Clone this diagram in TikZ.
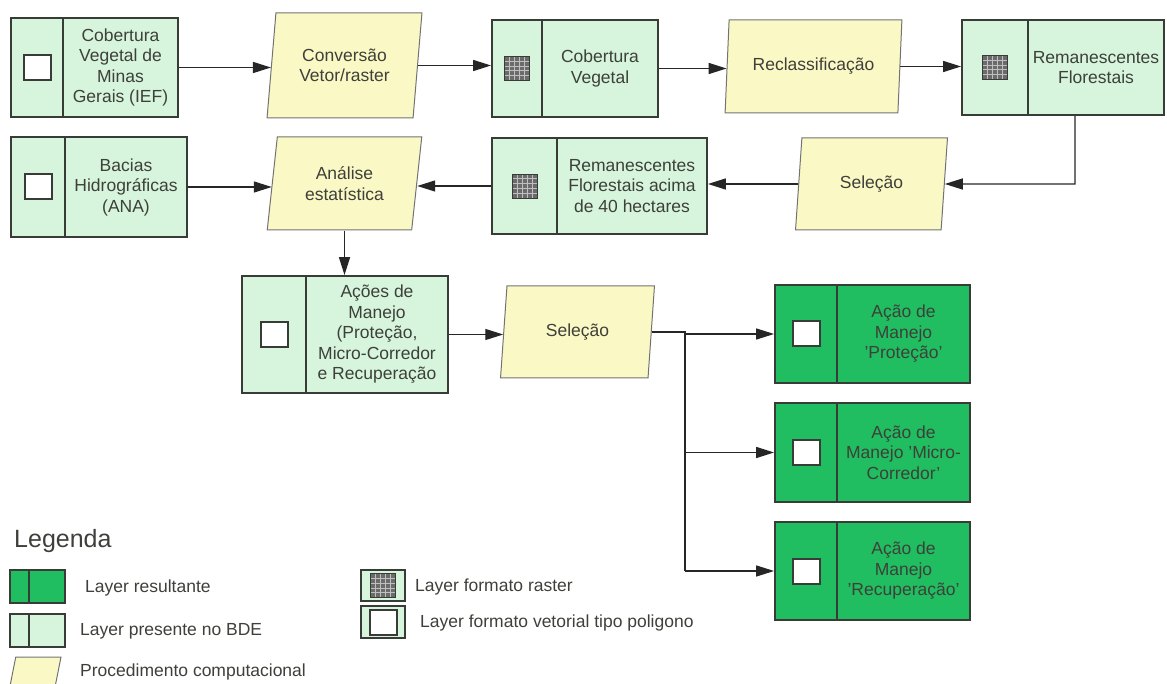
\documentclass[tikz,border=0pt]{standalone}
\usepackage{fontspec}
\setmainfont{Liberation Sans}
\usetikzlibrary{shapes.geometric,arrows.meta,fit}

\definecolor{layerlite}{RGB}{214,245,220}
\definecolor{layerdark}{RGB}{32,190,96}
\definecolor{procfill}{RGB}{250,248,196}
\definecolor{boxline}{RGB}{55,60,55}
\definecolor{txtgray}{RGB}{62,64,58}

\tikzset{
  lite/.style={draw=boxline, line width=1.8pt, fill=layerlite, inner sep=0pt},
  dark/.style={draw=boxline, line width=1.8pt, fill=layerdark, inner sep=0pt},
  proc/.style={trapezium, trapezium left angle=80, trapezium right angle=100,
    trapezium stretches=true, draw=black!55, line width=1pt, fill=procfill,
    inner sep=0pt, text=txtgray, align=center},
  divline/.style={draw=boxline, line width=1.6pt},
  vecicon/.style={draw=boxline, line width=2pt, fill=white,
    minimum width=27pt, minimum height=25pt, inner sep=0pt},
  rasicon/.style={draw=boxline, line width=0.8pt, fill=black!58,
    minimum width=25pt, minimum height=24pt, inner sep=0pt,
    path picture={\foreach \k in {1,...,4}{
      \draw[white!75!black, line width=0.8pt]
        ([xshift=\k*5pt]path picture bounding box.north west) -- ([xshift=\k*5pt]path picture bounding box.south west);
      \draw[white!75!black, line width=0.8pt]
        ([yshift=-\k*4.8pt]path picture bounding box.north west) -- ([yshift=-\k*4.8pt]path picture bounding box.north east);}}},
  boxtext/.style={text=txtgray, align=center, inner sep=0pt},
  legtext/.style={anchor=west, text=txtgray, inner sep=0pt},
  edge/.style={draw=black!85, line width=1.4pt},
  flow/.style={edge, -{Triangle[length=18pt,width=11pt]}},
}

% layer box: name, fill style, left, top, right, bottom, divider x, icon style, text
\newcommand{\layerbox}[9]{%
  \node[#2, fit={(#3,#4) (#5,#6)}] (#1) {};
  \draw[divline] (#7,#4) -- (#7,#6);
  \node[#8] (#1-icon) at ({(#3+#7)/2},{(#4+#6)/2}) {};
  \node[boxtext] (#1-text) at ({(#7+#5)/2},{(#4+#6)/2}) {#9};
}

\begin{document}
\begin{tikzpicture}[x=1pt,y=1pt,yscale=-1,font=\fontsize{17.5}{20.5}\selectfont]
\useasboundingbox (0,0) rectangle (1167,684);

%Layers, first row
\layerbox{cobmg}{lite}{11}{18}{178}{117}{63}{vecicon}{Cobertura\\Vegetal de\\Minas\\Gerais (IEF)}
\layerbox{cobveg}{lite}{492}{20}{658}{117}{542}{rasicon}{Cobertura\\Vegetal}
\layerbox{remflo}{lite}{962}{20}{1164}{115}{1028}{rasicon}{Remanescentes\\Florestais}

%Layers, second row
\layerbox{bacias}{lite}{11}{137}{187}{237}{65}{vecicon}{Bacias\\Hidrográficas\\(ANA)}
\layerbox{rem40}{lite}{492}{138}{707}{234}{557}{rasicon}{Remanescentes\\Florestais acima\\de 40 hectares}

%Layers, management actions
\layerbox{acoes}{lite}{242}{276}{448}{393}{306}{vecicon}{Ações de\\Manejo\\(Proteção,\\Micro-Corredor\\e Recuperação}
\layerbox{prot}{dark}{775}{285}{970}{383}{837}{vecicon}{Ação de\\Manejo\\'Proteção'}
\layerbox{micro}{dark}{775}{403}{970}{502}{837}{vecicon}{Ação de\\Manejo 'Micro-\\Corredor'}
\layerbox{recup}{dark}{775}{522}{970}{620}{837}{vecicon}{Ação de\\Manejo\\'Recuperação'}

%Procedures
\node[proc, minimum width=155pt, minimum height=105pt] (conv) at (344.5,65.5) {Conversão\\Vetor/raster};
\node[proc, minimum width=177pt, minimum height=93pt] (reclass) at (813.5,66.5) {Reclassificação};
\node[proc, minimum width=155pt, minimum height=93pt] (analise) at (344.5,183.5) {Análise\\estatística};
\node[proc, minimum width=153pt, minimum height=92pt] (sel1) at (871.5,184) {Seleção};
\node[proc, minimum width=155pt, minimum height=92pt] (sel2) at (577.5,332) {Seleção};

%Connectors
\draw[flow] (cobmg.east) -- (cobmg.east -| conv.west);
\draw[flow] (conv.east) -- (conv.east -| cobveg.west);
\draw[flow] (cobveg.east) -- (cobveg.east -| reclass.west);
\draw[flow] (reclass.east) -- (reclass.east -| remflo.west);
\coordinate (bend) at (1075,184);
\draw[flow] (bend |- remflo.south) -- (bend) -- (sel1.east);
\draw[flow] (sel1.west) -- (sel1.west -| rem40.east);
\draw[flow] (rem40.west) -- (rem40.west -| analise.east);
\draw[flow] (bacias.east) -- (bacias.east -| analise.west);
\draw[flow] (analise.south) -- (analise.south |- acoes.north);
\draw[flow] (acoes.east) -- (acoes.east -| sel2.west);
\coordinate (split) at (685,332);
\draw[edge] (sel2.east) -- (sel2.east -| split) -- (split |- recup.west);
\foreach \res in {prot,micro,recup}
  \draw[flow] (split |- \res.west) -- (\res.west);

%Legend
\node[anchor=base west, text=txtgray, inner sep=0pt, font=\fontsize{25}{30}\selectfont] (legtitle) at (14,547) {Legenda};
\node[dark, fit={(10,570) (65,603)}] (legres) {};
\draw[divline] ([xshift=20pt]legres.north west) -- ([xshift=20pt]legres.south west);
\node[legtext] (legres-text) at (85,588) {Layer resultante};
\node[lite, fit={(10,614) (65,647)}] (legbde) {};
\draw[divline] ([xshift=20pt]legbde.north west) -- ([xshift=20pt]legbde.south west);
\node[legtext] (legbde-text) at (80,631) {Layer presente no BDE};
\node[proc, inner sep=1pt, minimum width=52pt, minimum height=34pt] (legproc) at (35,674) {};
\node[legtext] (legproc-text) at (80,672) {Procedimento computacional};
\node[lite, fit={(361,570) (405,601)}] (legras) {};
\node[rasicon] (legras-icon) at (legras) {};
\node[legtext] (legras-text) at (415,587) {Layer formato raster};
\node[lite, fit={(361,606) (405,638)}] (legvet) {};
\node[vecicon] (legvet-icon) at (legvet) {};
\node[legtext] (legvet-text) at (420,623) {Layer formato vetorial tipo poligono};

\end{tikzpicture}
\end{document}
